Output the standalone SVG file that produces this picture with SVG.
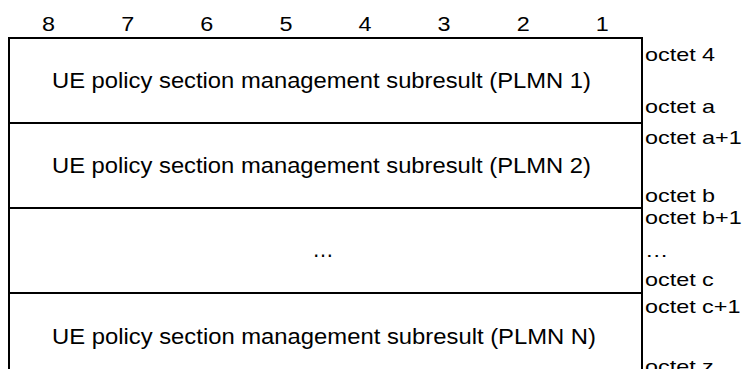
<svg xmlns="http://www.w3.org/2000/svg" width="744" height="369" viewBox="0 0 744 369">
<style>
.ln{stroke:#000;stroke-width:2;fill:none}
.t{font-family:"Liberation Sans",Arial,sans-serif;fill:#000}
.num{font-size:20px;text-anchor:middle}
.main{font-size:21.5px}
.oct{font-size:19px}
</style>
<rect width="744" height="369" fill="#fff"/>
<g id="bits" class="t num">
<text x="48.6" y="31" textLength="13" lengthAdjust="spacingAndGlyphs">8</text>
<text x="127.7" y="31" textLength="13" lengthAdjust="spacingAndGlyphs">7</text>
<text x="206.8" y="31" textLength="13" lengthAdjust="spacingAndGlyphs">6</text>
<text x="285.9" y="31" textLength="13" lengthAdjust="spacingAndGlyphs">5</text>
<text x="365" y="31" textLength="13" lengthAdjust="spacingAndGlyphs">4</text>
<text x="444.1" y="31" textLength="13" lengthAdjust="spacingAndGlyphs">3</text>
<text x="523.2" y="31" textLength="13" lengthAdjust="spacingAndGlyphs">2</text>
<text x="602.3" y="31" textLength="13" lengthAdjust="spacingAndGlyphs">1</text>
</g>
<g id="frame">
<line class="ln" x1="8" y1="38" x2="643" y2="38"/>
<line class="ln" x1="9" y1="37" x2="9" y2="369"/>
<line class="ln" x1="642" y1="37" x2="642" y2="369"/>
</g>
<g id="row1">
<text class="t main" x="52" y="88" textLength="539" lengthAdjust="spacingAndGlyphs">UE policy section management subresult (PLMN 1)</text>
<line class="ln" x1="8" y1="123" x2="642" y2="123"/>
</g>
<g id="row2">
<text class="t main" x="52" y="173" textLength="539" lengthAdjust="spacingAndGlyphs">UE policy section management subresult (PLMN 2)</text>
<line class="ln" x1="8" y1="208" x2="642" y2="208"/>
</g>
<g id="row3">
<text class="t main" x="323" y="257" text-anchor="middle">…</text>
<line class="ln" x1="8" y1="293" x2="642" y2="293"/>
</g>
<g id="row4">
<text class="t main" x="52" y="344" textLength="544" lengthAdjust="spacingAndGlyphs">UE policy section management subresult (PLMN N)</text>
</g>
<g id="octets" class="t oct" transform="translate(645,0) scale(1.23,1)">
<text x="0" y="61">octet 4</text>
<text x="0" y="113">octet a</text>
<text x="0" y="144">octet a+1</text>
<text x="0" y="202">octet b</text>
<text x="0" y="224">octet b+1</text>
<text x="0" y="257">…</text>
<text x="0" y="286">octet c</text>
<text x="0" y="313">octet c+1</text>
<text x="0" y="373">octet z</text>
</g>
</svg>
